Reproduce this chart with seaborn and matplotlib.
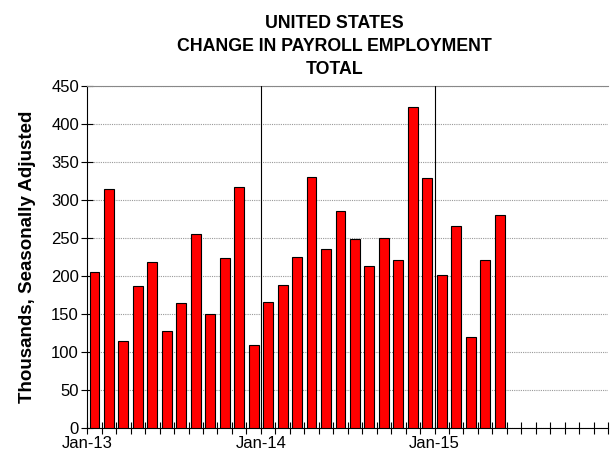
import numpy as np
import pandas as pd
import seaborn as sns
import matplotlib.pyplot as plt

# Meses de Jan-13 a Dec-15 (eixo completo), dados até May-15
years = ["13", "14", "15"]
month_names = ["Jan", "Feb", "Mar", "Apr", "May", "Jun",
               "Jul", "Aug", "Sep", "Oct", "Nov", "Dec"]
months = [m + "-" + y for y in years for m in month_names]

payroll = [205, 314, 115, 187, 219, 127, 164, 256, 150, 224, 317, 109,
           166, 188, 225, 330, 236, 286, 249, 213, 250, 221, 423, 329,
           201, 266, 119, 221, 280]

year_labels = ["Jan-13", "Jan-14", "Jan-15"]

df = pd.DataFrame({"month": months[:len(payroll)], "change": payroll})

sns.set_style("white")
plt.rcParams["font.family"] = ["Liberation Sans", "DejaVu Sans"]
plt.rcParams["text.color"] = "black"
plt.rcParams["axes.labelcolor"] = "black"
plt.rcParams["xtick.color"] = "black"
plt.rcParams["ytick.color"] = "black"

fig, ax = plt.subplots(figsize=(6.1, 4.59), dpi=100)
fig.subplots_adjust(left=0.143, right=0.997, top=0.812, bottom=0.068)

sns.barplot(x="month", y="change", data=df, order=months, color="#ff0000",
            saturation=1, width=0.68, edgecolor="black", linewidth=0.8, ax=ax, zorder=3)

ax.set_xlim(-0.5, len(months) - 0.5)
ax.set_ylim(0, 450)
ax.set_yticks(np.arange(0, 451, 50))
ax.yaxis.grid(True, color="#999999", linestyle=(0, (1, 1)), linewidth=0.8, zorder=0)

# Marcas de mês nas fronteiras, rótulos só em janeiro
ax.set_xticks(np.arange(len(months) + 1) - 0.5, minor=True)
ax.set_xticks([-0.5, 11.5, 23.5])
ax.set_xticklabels(year_labels)
ax.tick_params(axis="x", which="both", bottom=True, direction="inout", length=8,
               width=0.8, color="black", labelcolor="black", labelsize=12, pad=2)
ax.tick_params(axis="y", left=True, direction="inout", length=8, width=0.8,
               color="black", labelcolor="black", labelsize=12, pad=2)

for pos in [11.5, 23.5]:
    ax.axvline(pos, color="black", linewidth=0.8, zorder=4)

ax.spines["right"].set_visible(False)
ax.spines["top"].set_color("#888888")
ax.spines["left"].set_color("black")
ax.spines["bottom"].set_color("black")

ax.set_xlabel("")
ax.set_ylabel("Thousands, Seasonally Adjusted", fontsize=13.5, fontweight="bold",
              color="black", labelpad=11)
ax.set_title("UNITED STATES\nCHANGE IN PAYROLL EMPLOYMENT\nTOTAL",
             fontsize=12.8, fontweight="bold", color="black", linespacing=1.45,
             x=0.474, pad=9)

plt.savefig("out.png", dpi=100)
